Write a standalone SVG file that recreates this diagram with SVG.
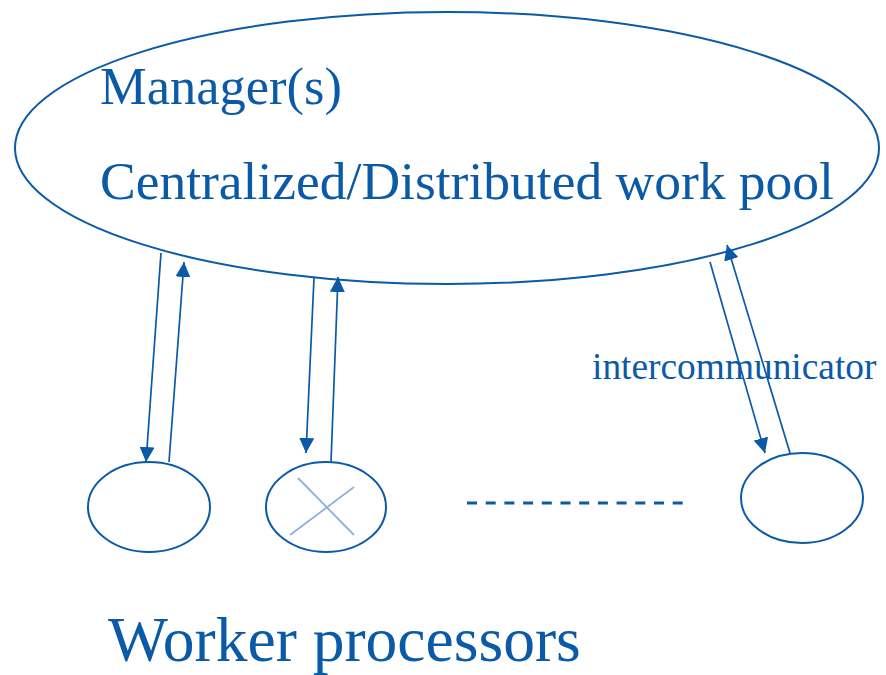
<svg xmlns="http://www.w3.org/2000/svg" width="886" height="675" viewBox="0 0 886 675">
  <style>
    .shape { fill: none; stroke: #0b5aa8; stroke-width: 2; }
    .link { fill: none; stroke: #0b5aa8; stroke-width: 1.7; }
    .txt { fill: #0b5aa8; font-family: "Liberation Serif", "Times New Roman", serif; }
    .cross { stroke: #8eb0dc; stroke-width: 1.8; }
  </style>
  <defs>
    <marker id="head" markerUnits="userSpaceOnUse" markerWidth="16" markerHeight="15" refX="15" refY="7.5" orient="auto">
      <path d="M0,0 L15,7.5 L0,15 z" fill="#0b5aa8"/>
    </marker>
  </defs>
  <rect width="886" height="675" fill="#ffffff"/>

  <!-- manager / work pool -->
  <g id="manager">
    <ellipse class="shape" cx="447" cy="148" rx="432" ry="136"/>
    <text class="txt" x="100" y="104" font-size="52.5">Manager(s)</text>
    <text class="txt" x="100" y="199" font-size="53.5">Centralized/Distributed work pool</text>
  </g>

  <!-- workers -->
  <g id="worker1">
    <ellipse class="shape" cx="149" cy="507" rx="61" ry="45"/>
  </g>
  <g id="worker2">
    <ellipse class="shape" cx="326" cy="507" rx="60" ry="45"/>
    <line class="cross" x1="298" y1="478" x2="354" y2="535"/>
    <line class="cross" x1="354" y1="487" x2="290" y2="535"/>
  </g>
  <g id="worker3">
    <ellipse class="shape" cx="802" cy="498" rx="61" ry="45"/>
  </g>

  <!-- message arrows -->
  <g id="connectors">
    <line class="link" x1="161" y1="253" x2="146" y2="462" marker-end="url(#head)"/>
    <line class="link" x1="169" y1="462" x2="184" y2="262" marker-end="url(#head)"/>
    <line class="link" x1="314" y1="278" x2="306" y2="453" marker-end="url(#head)"/>
    <line class="link" x1="331" y1="462" x2="338" y2="277" marker-end="url(#head)"/>
    <line class="link" x1="710" y1="262" x2="765" y2="453" marker-end="url(#head)"/>
    <line class="link" x1="790" y1="453" x2="727" y2="245" marker-end="url(#head)"/>
  </g>

  <line x1="467" y1="503" x2="684" y2="503" stroke="#0b5aa8" stroke-width="3" stroke-dasharray="10 8.7"/>

  <text class="txt" x="592" y="379" font-size="37.4">intercommunicator</text>
  <text class="txt" x="108" y="661" font-size="63.5">Worker processors</text>
</svg>
